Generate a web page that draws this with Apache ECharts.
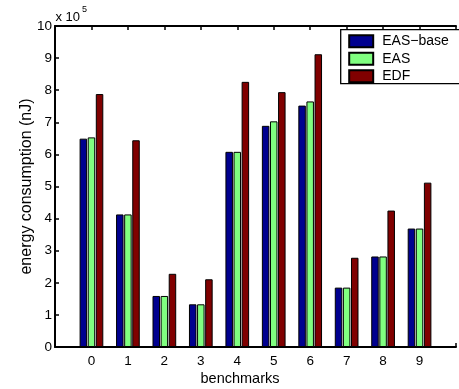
<!DOCTYPE html>
<html>
<head>
<meta charset="utf-8">
<script src="https://cdn.jsdelivr.net/npm/echarts@6/dist/echarts.min.js"></script>
<style>
html, body { margin: 0; padding: 0; background: #fff; }
#chart { width: 459px; height: 389px; }
</style>
</head>
<body>
<div id="chart"></div>
<script>
// values in units of 10^5 nJ
var benchmarks = ['0', '1', '2', '3', '4', '5', '6', '7', '8', '9'];
var easBase = [6.49, 4.13, 1.59, 1.33, 6.08, 6.89, 7.52, 1.85, 2.82, 3.69];
var eas     = [6.53, 4.13, 1.59, 1.33, 6.08, 7.03, 7.65, 1.85, 2.82, 3.69];
var edf     = [7.88, 6.44, 2.28, 2.11, 8.26, 7.94, 9.12, 2.78, 4.25, 5.12];
var yMin = 0, yMax = 10, yStep = 1;

var font = 'Liberation Sans';

// x axis runs from -1 to 10, so pad the categories at both ends
var cats = [''].concat(benchmarks, ['']);
function pad(arr) {
    return ['-'].concat(arr, ['-']);
}

var myChart = echarts.init(document.getElementById('chart'));

function barSeries(name, color, data) {
    return {
        name: name,
        type: 'bar',
        barWidth: 7.5,
        barGap: '8%',
        itemStyle: {
            color: color,
            borderColor: '#000',
            borderWidth: 1
        },
        data: pad(data)
    };
}

var option = {
    animation: false,
    textStyle: { fontFamily: font },
    grid: {
        left: 55,
        top: 26,
        width: 407.7,
        height: 321
    },
    legend: {
        orient: 'vertical',
        left: 340.7,
        top: 29.7,
        padding: [4.5, 12, 0.5, 7.5],
        icon: 'rect',
        itemWidth: 24,
        itemHeight: 12,
        itemGap: 3.5,
        borderColor: '#000',
        borderWidth: 1.3,
        backgroundColor: '#fff',
        textStyle: {
            fontFamily: font,
            fontSize: 14,
            color: '#000',
            lineHeight: 12,
            padding: [0, 0, 0, 4]
        },
        data: ['EAS\u2212base', 'EAS', 'EDF']
    },
    xAxis: [
        {
            type: 'category',
            data: cats,
            boundaryGap: false,
            position: 'bottom',
            axisLine: { lineStyle: { color: '#000', width: 2 } },
            axisTick: { inside: true, length: 4, interval: 0, lineStyle: { color: '#000', width: 1.5 } },
            axisLabel: { interval: 0, color: '#000', fontSize: 13.5, margin: 7, fontFamily: font },
            splitLine: { show: false }
        },
        {
            type: 'category',
            data: cats,
            boundaryGap: false,
            position: 'top',
            axisLine: { lineStyle: { color: '#000', width: 2 } },
            axisTick: { inside: true, length: 4, interval: 0, lineStyle: { color: '#000', width: 1.5 } },
            axisLabel: { show: false },
            splitLine: { show: false }
        }
    ],
    yAxis: [
        {
            type: 'value',
            min: yMin,
            max: yMax,
            interval: yStep,
            name: 'energy consumption (nJ)',
            nameLocation: 'middle',
            nameGap: 20,
            nameMoveOverlap: false,
            nameTextStyle: { fontFamily: font, fontSize: 16, color: '#000' },
            axisLine: { show: true, lineStyle: { color: '#000', width: 2 } },
            axisTick: { show: true, inside: true, length: 4, lineStyle: { color: '#000', width: 1.5 } },
            axisLabel: { color: '#000', fontSize: 13.5, margin: 3, fontFamily: font },
            splitLine: { show: false }
        }
    ],
    graphic: [
        {
            type: 'text',
            left: 55.5,
            top: 11,
            style: { text: 'x 10', font: '13px "Liberation Sans"', fill: '#000' }
        },
        {
            type: 'text',
            left: 82,
            top: 5,
            style: { text: '5', font: '9px "Liberation Sans"', fill: '#000' }
        },
        {
            type: 'text',
            x: 240,
            y: 378.5,
            style: {
                text: 'benchmarks',
                font: '14.5px "Liberation Sans"',
                fill: '#000',
                align: 'center',
                verticalAlign: 'middle'
            }
        }
    ],
    series: [
        barSeries('EAS\u2212base', '#00008f', easBase),
        barSeries('EAS', '#80ff80', eas),
        barSeries('EDF', '#800000', edf)
    ]
};
myChart.setOption(option);
</script>
</body>
</html>
